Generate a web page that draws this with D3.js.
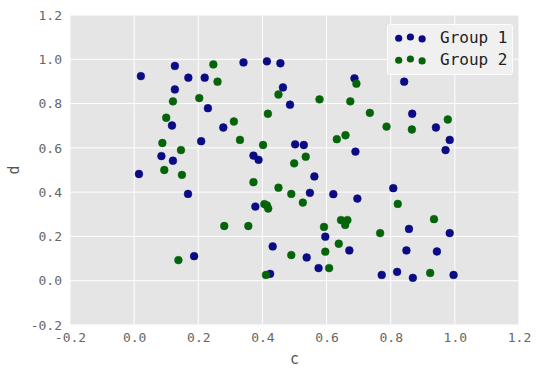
<!DOCTYPE html>
<html>
<head>
<meta charset="utf-8">
<script src="https://cdn.jsdelivr.net/npm/d3@7"></script>
<style>
  body { margin: 0; background: #fff; }
  svg { display: block; }
</style>
</head>
<body>
<div id="chart"></div>
<script>
const width = 540;
const height = 377;
const margin = { top: 15, right: 21, bottom: 52, left: 70 };

const xTicks = [-0.2, 0.0, 0.2, 0.4, 0.6, 0.8, 1.0, 1.2];
const yTicks = [-0.2, 0.0, 0.2, 0.4, 0.6, 0.8, 1.0, 1.2];

const group1 = [
  [0.021, 0.924], [0.127, 0.970], [0.169, 0.917], [0.220, 0.917], [0.127, 0.864],
  [0.230, 0.779], [0.118, 0.701], [0.278, 0.692], [0.209, 0.630], [0.341, 0.986],
  [0.414, 0.991], [0.456, 0.982], [0.464, 0.873], [0.486, 0.795], [0.502, 0.616],
  [0.085, 0.563], [0.121, 0.542], [0.372, 0.565], [0.388, 0.546], [0.015, 0.482],
  [0.687, 0.914], [0.842, 0.899], [0.867, 0.754], [0.941, 0.692], [0.984, 0.636],
  [0.971, 0.590], [0.690, 0.583], [0.529, 0.613], [0.168, 0.392], [0.378, 0.335],
  [0.432, 0.155], [0.187, 0.111], [0.424, 0.031], [0.562, 0.471], [0.548, 0.397],
  [0.621, 0.391], [0.696, 0.371], [0.808, 0.418], [0.857, 0.234], [0.984, 0.215],
  [0.596, 0.199], [0.671, 0.137], [0.538, 0.105], [0.575, 0.057], [0.849, 0.137],
  [0.944, 0.132], [0.772, 0.026], [0.820, 0.040], [0.869, 0.013], [0.996, 0.026]
];

const group2 = [
  [0.247, 0.977], [0.260, 0.899], [0.121, 0.810], [0.203, 0.825], [0.100, 0.736],
  [0.311, 0.719], [0.417, 0.754], [0.450, 0.841], [0.088, 0.622], [0.146, 0.590],
  [0.330, 0.636], [0.402, 0.613], [0.094, 0.500], [0.149, 0.478], [0.499, 0.530],
  [0.693, 0.890], [0.578, 0.819], [0.674, 0.810], [0.735, 0.758], [0.787, 0.696],
  [0.866, 0.683], [0.978, 0.728], [0.632, 0.639], [0.659, 0.657], [0.535, 0.560],
  [0.372, 0.445], [0.450, 0.420], [0.490, 0.392], [0.406, 0.346], [0.414, 0.340],
  [0.418, 0.326], [0.281, 0.247], [0.356, 0.247], [0.138, 0.093], [0.490, 0.116],
  [0.411, 0.026], [0.526, 0.353], [0.822, 0.347], [0.935, 0.278], [0.645, 0.274],
  [0.665, 0.274], [0.658, 0.252], [0.592, 0.243], [0.638, 0.167], [0.596, 0.131],
  [0.767, 0.215], [0.608, 0.057], [0.923, 0.035]
];

const groups = [
  { name: 'Group 1', color: '#0b0b85', points: group1 },
  { name: 'Group 2', color: '#05640a', points: group2 }
];

const mono = '"DejaVu Sans Mono", monospace';

const svg = d3.select('#chart')
  .append('svg')
  .attr('width', width)
  .attr('height', height);

const x = d3.scaleLinear()
  .domain([-0.2, 1.2])
  .range([margin.left, width - margin.right]);

const y = d3.scaleLinear()
  .domain([-0.2, 1.2])
  .range([height - margin.bottom, margin.top]);

// plot background
svg.append('rect')
  .attr('x', margin.left)
  .attr('y', margin.top)
  .attr('width', width - margin.left - margin.right)
  .attr('height', height - margin.top - margin.bottom)
  .attr('fill', '#e5e5e5');

// grid
svg.append('g')
  .selectAll('line')
  .data(xTicks)
  .join('line')
  .attr('x1', d => x(d))
  .attr('x2', d => x(d))
  .attr('y1', margin.top)
  .attr('y2', height - margin.bottom)
  .attr('stroke', '#fff')
  .attr('stroke-width', 1);

svg.append('g')
  .selectAll('line')
  .data(yTicks)
  .join('line')
  .attr('y1', d => y(d))
  .attr('y2', d => y(d))
  .attr('x1', margin.left)
  .attr('x2', width - margin.right)
  .attr('stroke', '#fff')
  .attr('stroke-width', 1);

// axes
const fmt = d => d3.format('.1f')(d).replace('−', '-');

const xAxisG = svg.append('g')
  .attr('transform', `translate(0, ${height - margin.bottom})`)
  .call(d3.axisBottom(x).tickValues(xTicks).tickFormat(fmt).tickSize(0).tickPadding(8));

const yAxisG = svg.append('g')
  .attr('transform', `translate(${margin.left}, 0)`)
  .call(d3.axisLeft(y).tickValues(yTicks).tickFormat(fmt).tickSize(0).tickPadding(8));

[xAxisG, yAxisG].forEach(g => {
  g.select('.domain').remove();
  g.selectAll('text')
    .attr('fill', '#666')
    .style('font-family', mono)
    .style('font-size', '13px');
});

svg.append('text')
  .text('c')
  .attr('x', (margin.left + width - margin.right) / 2)
  .attr('y', height - 13)
  .attr('text-anchor', 'middle')
  .attr('fill', '#555')
  .style('font-family', mono)
  .style('font-size', '15px');

svg.append('text')
  .text('d')
  .attr('transform', `translate(19, ${(margin.top + height - margin.bottom) / 2}) rotate(-90)`)
  .attr('text-anchor', 'middle')
  .attr('fill', '#555')
  .style('font-family', mono)
  .style('font-size', '15px');

// points
groups.forEach(grp => {
  svg.append('g')
    .selectAll('circle')
    .data(grp.points)
    .join('circle')
    .attr('cx', d => x(d[0]))
    .attr('cy', d => y(d[1]))
    .attr('r', 3.9)
    .attr('fill', grp.color)
    .attr('stroke', grp.color)
    .attr('stroke-width', 0.5);
});

// legend
const legend = svg.append('g');

legend.append('rect')
  .attr('x', 387.5)
  .attr('y', 24.5)
  .attr('width', 125)
  .attr('height', 50)
  .attr('rx', 2)
  .attr('fill', '#f0f0f0')
  .attr('stroke', '#fcfcfc')
  .attr('stroke-width', 1);

const legendOffsets = [0.375, 0.5, 0.3125];
const legendRows = legend.selectAll('g.row')
  .data(groups)
  .join('g')
  .attr('class', 'row')
  .attr('transform', (d, i) => `translate(0, ${37 + i * 22})`);

legendRows.selectAll('circle')
  .data(d => legendOffsets.map((o, j) => ({ color: d.color, j, o })))
  .join('circle')
  .attr('cx', d => 398.7 + d.j * 11.7)
  .attr('cy', d => (0.5 - d.o) * 10)
  .attr('r', 3.6)
  .attr('fill', d => d.color);

legendRows.append('text')
  .text(d => d.name)
  .attr('x', 440)
  .attr('y', 5.5)
  .attr('fill', '#222')
  .style('font-family', mono)
  .style('font-size', '16px');
</script>
</body>
</html>
